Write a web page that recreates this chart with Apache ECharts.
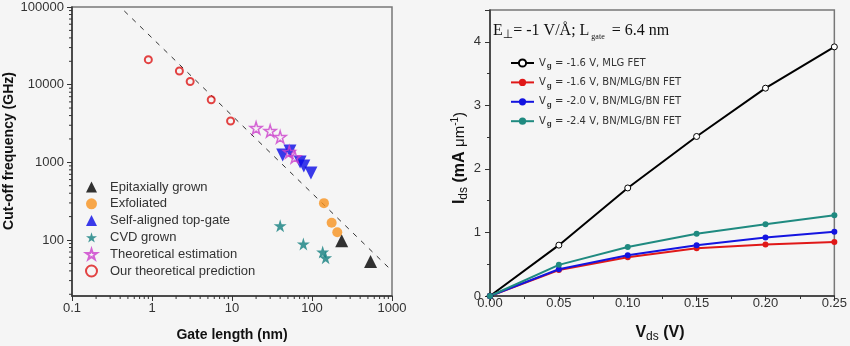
<!DOCTYPE html>
<html><head><meta charset="utf-8">
<script src="https://cdn.jsdelivr.net/npm/echarts@6/dist/echarts.min.js"></script>
<style>html,body{margin:0;padding:0;background:#f5f5f5}#c{width:850px;height:346px}</style>
</head><body><div id="c"></div>
<script>
// ---- Left panel data (gate length nm, cut-off frequency GHz) ----
const epiLen = [235, 540];
const epiFreq = [98, 53];
const exfLen = [141, 176, 207];
const exfFreq = [298, 167, 126];
const selfLen = [43, 53, 71, 79, 97];
const selfFreq = [1245, 1400, 1010, 900, 730];
const cvdLen = [40, 78, 136, 148];
const cvdFreq = [153, 89, 70, 59];
const estLen = [20, 30, 40, 52, 61];
const estFreq = [2770, 2540, 2120, 1360, 1170];
const oursLen = [0.9, 2.2, 3, 5.5, 9.6];
const oursFreq = [21000, 15000, 11000, 6400, 3400];
const fitLen = [0.45, 1000];
const fitFreq = [89000, 40];
const leftNames = ['Epitaxially grown','Exfoliated','Self-aligned top-gate','CVD grown','Theoretical estimation','Our theoretical prediction'];

// ---- Right panel data ----
const vds = [0, 0.05, 0.10, 0.15, 0.20, 0.25];
const idsMLG = [0, 0.80, 1.70, 2.51, 3.27, 3.92];
const idsBN16 = [0, 0.41, 0.61, 0.75, 0.81, 0.85];
const idsBN20 = [0, 0.42, 0.64, 0.80, 0.92, 1.01];
const idsBN24 = [0, 0.49, 0.77, 0.98, 1.13, 1.27];
const rightNames = ['Vg = -1.6 V, MLG FET','Vg = -1.6 V, BN/MLG/BN FET','Vg = -2.0 V, BN/MLG/BN FET','Vg = -2.4 V, BN/MLG/BN FET'];

// minor tick positions for log axes
const xMinorTicks = [], yMinorTicks = [];
[0.1, 1, 10, 100].forEach(d => { for (let k = 2; k <= 9; k++) xMinorTicks.push(d * k); });
[10, 100, 1000, 10000].forEach(d => { for (let k = 2; k <= 9; k++) { const v = d * k; if (v > 19) yMinorTicks.push(v); } });

const zip = (a, b) => a.map((v, i) => [v, b[i]]);
const FONT = '"Liberation Sans", Arial, sans-serif';
const TXT = '#333';
const STAR = 'path://M50,0 L61,35 L98,35 L68,57 L79,91 L50,70 L21,91 L32,57 L2,35 L39,35 Z';
const Y_MIN = 19;

function tickRender(axis) {
  return function (params, api) {
    const p = api.coord([api.value(0), api.value(1)]);
    const shape = axis === 'x' ? {x1: p[0], y1: p[1], x2: p[0], y2: p[1] + 3}
                               : {x1: p[0], y1: p[1], x2: p[0] - 3, y2: p[1]};
    return {type: 'line', shape, style: {stroke: '#333', lineWidth: 1}};
  };
}
const logLabel = v => { const l = Math.log10(v); return Math.abs(l - Math.round(l)) < 1e-6 ? String(+v.toPrecision(6)) : ''; };

const chart = echarts.init(document.getElementById('c'), null, {renderer: 'canvas'});
const rightLegendText = {
  'Vg = -1.6 V, MLG FET': '{a|V}{s|g}{a| = -1.6 V, MLG FET}',
  'Vg = -1.6 V, BN/MLG/BN FET': '{a|V}{s|g}{a| = -1.6 V, BN/MLG/BN FET}',
  'Vg = -2.0 V, BN/MLG/BN FET': '{a|V}{s|g}{a| = -2.0 V, BN/MLG/BN FET}',
  'Vg = -2.4 V, BN/MLG/BN FET': '{a|V}{s|g}{a| = -2.4 V, BN/MLG/BN FET}'
};
const LF = '"DejaVu Sans", sans-serif';

const option = {
  backgroundColor: '#f5f5f5',
  animation: false,
  grid: [
    {left: 72, top: 7, width: 320, height: 289, show: true, borderColor: '#777', borderWidth: 1.5, backgroundColor: 'transparent'},
    {left: 490, top: 10, width: 350, height: 286, show: true, borderColor: '#777', borderWidth: 1.5, backgroundColor: 'transparent'}
  ],
  xAxis: [
    {gridIndex: 0, type: 'log', logBase: 10, min: 0.1, max: 1000,
     axisLine: {lineStyle: {color: '#333', width: 1.5}},
     axisTick: {inside: false, length: 5, lineStyle: {color: '#333'}},
     axisLabel: {color: TXT, fontFamily: FONT, fontSize: 13, margin: 6, formatter: logLabel},
     splitLine: {show: false}},
    {gridIndex: 1, type: 'value', min: 0, max: 0.25, interval: 0.05,
     axisLine: {lineStyle: {color: '#333', width: 1.5}},
     axisTick: {length: 5, lineStyle: {color: '#333'}},
     minorTick: {show: true, splitNumber: 2, length: 3, lineStyle: {color: '#333'}},
     axisLabel: {color: TXT, fontFamily: FONT, fontSize: 13, margin: 1, formatter: v => v.toFixed(2)},
     splitLine: {show: false}}
  ],
  yAxis: [
    {gridIndex: 0, type: 'log', logBase: 10, min: Y_MIN, max: 100000,
     axisLine: {lineStyle: {color: '#333', width: 1.5}},
     axisTick: {length: 5, lineStyle: {color: '#333'}},
     axisLabel: {color: TXT, fontFamily: FONT, fontSize: 13, margin: 8, showMinLabel: false, formatter: logLabel},
     splitLine: {show: false}},
    {gridIndex: 1, type: 'value', min: 0, max: 4.5, interval: 1,
     axisLine: {lineStyle: {color: '#333', width: 1.5}},
     axisTick: {length: 5, lineStyle: {color: '#333'}},
     minorTick: {show: true, splitNumber: 2, length: 3, lineStyle: {color: '#333'}},
     axisLabel: {color: TXT, fontFamily: FONT, fontSize: 13, margin: 9, showMaxLabel: false},
     splitLine: {show: false}}
  ],
  legend: [
    {data: leftNames, orient: 'vertical', left: 80, top: 175, itemWidth: 11, itemHeight: 11, itemGap: 2.8,
     textStyle: {color: TXT, fontFamily: FONT, fontSize: 13, lineHeight: 14, padding: [0, 0, 0, 8]},
     selectedMode: false},
    {data: rightNames, orient: 'vertical', left: 505, top: 53, itemWidth: 23, itemHeight: 9, itemGap: 7.4,
     selectedMode: false,
     formatter: n => rightLegendText[n],
     textStyle: {color: TXT, fontFamily: LF, fontSize: 10,
       rich: {a: {fontSize: 10, fontFamily: LF, color: TXT, lineHeight: 14, verticalAlign: 'middle'},
              s: {fontSize: 8, fontWeight: 'bold', fontFamily: FONT, color: TXT, lineHeight: 14, verticalAlign: 'bottom', padding: [0, 0, 0, 1]}}}}
  ],
  graphic: [
    {type: 'text', x: 9, y: 151, rotation: Math.PI / 2,
     style: {text: 'Cut-off frequency (GHz)', font: 'bold 14px ' + FONT, fill: '#111', align: 'center', verticalAlign: 'middle'}},
    {type: 'text', x: 232, y: 335,
     style: {text: 'Gate length (nm)', font: 'bold 14px ' + FONT, fill: '#111', align: 'center', verticalAlign: 'middle'}},
    {type: 'text', x: 460, y: 158, rotation: Math.PI / 2,
     style: {text: '{b|I}{sub|ds}{b| (mA }{n|μm}{sup|-1}{n|)}', align: 'center', verticalAlign: 'middle',
       rich: {b: {font: 'bold 16px ' + FONT, fill: '#111', lineHeight: 20, verticalAlign: 'middle'},
              n: {font: '15px ' + FONT, fill: '#111', lineHeight: 20, verticalAlign: 'middle'},
              sub: {font: '12px ' + FONT, fill: '#111', lineHeight: 12, verticalAlign: 'bottom'},
              sup: {font: '10px ' + FONT, fill: '#111', lineHeight: 10, verticalAlign: 'top'}}}},
    {type: 'text', x: 660, y: 333,
     style: {text: '{b|V}{sub|ds}{b| (V)}', align: 'center', verticalAlign: 'middle',
       rich: {b: {font: 'bold 16px ' + FONT, fill: '#111', lineHeight: 20, verticalAlign: 'middle'},
              sub: {font: '12px ' + FONT, fill: '#111', lineHeight: 12, verticalAlign: 'bottom'}}}},
    {type: 'text', x: 493, y: 31,
     style: {text: '{a|E}{s|⊥}{a|= -1 V/Å; L}{t|gate}{a| = 6.4 nm}', align: 'left', verticalAlign: 'middle',
       rich: {a: {font: '16px "Liberation Serif", "Times New Roman", serif', fill: '#111', lineHeight: 20, verticalAlign: 'middle'},
              s: {font: '12px "DejaVu Sans", sans-serif', fill: '#111', lineHeight: 12, verticalAlign: 'bottom'},
              t: {font: '8px "Liberation Serif", serif', fill: '#111', lineHeight: 10, verticalAlign: 'bottom', padding: [0, 3, 0, 2]}}}}
  ],
  series: [
    {type: 'line', name: 'fit', xAxisIndex: 0, yAxisIndex: 0, data: zip(fitLen, fitFreq), showSymbol: false, symbol: 'none',
     lineStyle: {color: '#333', width: 1, type: [5, 6]}, z: 1},
    {type: 'scatter', name: 'Epitaxially grown', xAxisIndex: 0, yAxisIndex: 0, data: zip(epiLen, epiFreq),
     symbol: 'triangle', symbolSize: 13, itemStyle: {color: '#000'}},
    {type: 'scatter', name: 'Exfoliated', xAxisIndex: 0, yAxisIndex: 0, data: zip(exfLen, exfFreq),
     symbol: 'circle', symbolSize: 10, itemStyle: {color: '#f7921e'}},
    {type: 'scatter', name: 'Self-aligned top-gate', xAxisIndex: 0, yAxisIndex: 0, data: zip(selfLen, selfFreq),
     symbol: 'triangle', symbolRotate: 180, symbolSize: 13, itemStyle: {color: '#0a0ae6'}},
    {type: 'scatter', name: 'CVD grown', xAxisIndex: 0, yAxisIndex: 0, data: zip(cvdLen, cvdFreq),
     symbol: STAR, symbolSize: 13, itemStyle: {color: '#138080'}},
    {type: 'scatter', name: 'Theoretical estimation', xAxisIndex: 0, yAxisIndex: 0, data: zip(estLen, estFreq),
     symbol: STAR, symbolSize: 12, itemStyle: {color: 'rgba(255,255,255,0)', borderColor: '#cc40cc', borderWidth: 1.5}},
    {type: 'scatter', name: 'Our theoretical prediction', xAxisIndex: 0, yAxisIndex: 0, data: zip(oursLen, oursFreq),
     symbol: 'circle', symbolSize: 7, itemStyle: {color: 'rgba(255,255,255,0)', borderColor: '#dd1515', borderWidth: 2}},
    {type: 'custom', name: 'xminor', xAxisIndex: 0, yAxisIndex: 0, silent: true, clip: false, z: 5,
     data: xMinorTicks.map(v => [v, Y_MIN]), renderItem: tickRender('x')},
    {type: 'custom', name: 'yminor', xAxisIndex: 0, yAxisIndex: 0, silent: true, clip: false, z: 5,
     data: yMinorTicks.map(v => [0.1, v]), renderItem: tickRender('y')},

    {type: 'line', name: rightNames[0], xAxisIndex: 1, yAxisIndex: 1, data: zip(vds, idsMLG),
     symbol: 'circle', symbolSize: 6, lineStyle: {color: '#000', width: 2},
     itemStyle: {color: '#fff', borderColor: '#000', borderWidth: 1}},
    {type: 'line', name: rightNames[1], xAxisIndex: 1, yAxisIndex: 1, data: zip(vds, idsBN16),
     symbol: 'circle', symbolSize: 6, lineStyle: {color: '#e01818', width: 2},
     itemStyle: {color: '#e01818', borderColor: '#e01818', borderWidth: 0}},
    {type: 'line', name: rightNames[2], xAxisIndex: 1, yAxisIndex: 1, data: zip(vds, idsBN20),
     symbol: 'circle', symbolSize: 6, lineStyle: {color: '#1414e0', width: 2},
     itemStyle: {color: '#1414e0', borderColor: '#1414e0', borderWidth: 0}},
    {type: 'line', name: rightNames[3], xAxisIndex: 1, yAxisIndex: 1, data: zip(vds, idsBN24),
     symbol: 'circle', symbolSize: 6, lineStyle: {color: '#1f8a80', width: 2},
     itemStyle: {color: '#1f8a80', borderColor: '#1f8a80', borderWidth: 0}}
  ]
};
chart.setOption(option);
</script>
</body></html>
